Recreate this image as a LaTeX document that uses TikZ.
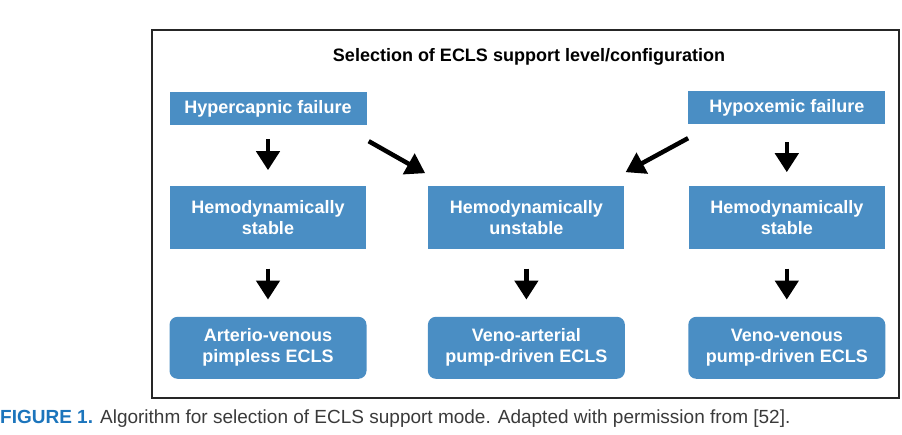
\documentclass[tikz,border=0pt]{standalone}
\usepackage{fontspec}
\setmainfont{Liberation Sans}
\usepackage{xcolor}
\definecolor{boxblue}{HTML}{4A8EC4}
\definecolor{capblue}{HTML}{1C75BC}
\definecolor{capgray}{HTML}{3A3A3A}
\definecolor{framegray}{HTML}{262626}
\usepackage{tikz}
\usetikzlibrary{arrows.meta,positioning}
\tikzset{
    box_text/.style={text=white, font=\bfseries\fontsize{18}{21}\selectfont, align=center, inner sep=0pt},
    flow_arrow/.style={-{Triangle[length=19pt,width=23pt]}, line width=4.5pt, black}
}

\begin{document}
\begin{tikzpicture}[
    x=1pt, y=-1pt,
    fail_node/.style={box_text, fill=boxblue, minimum width=197pt, minimum height=33pt},
    hemo_node/.style={box_text, fill=boxblue, minimum width=196pt, minimum height=63pt},
    mode_node/.style={box_text, fill=boxblue, rounded corners=8pt, minimum width=197pt, minimum height=62pt}
]
  \useasboundingbox (0,0) rectangle (902,435);

  % Outer frame and heading
  \draw[framegray, line width=2pt] (152,30) rectangle (899,398);
  \node[font=\bfseries\fontsize{18}{21}\selectfont] (title) at (529,57) {Selection of ECLS support level/configuration};

  % Failure type
  \node[fail_node] (hyper) at (268,108.5) {Hypercapnic failure};

  % Hemodynamic state
  \node[hemo_node, below=61pt of hyper] (stab_l) {Hemodynamically\\stable};
  \node[hemo_node, right=62pt of stab_l] (unstab) {Hemodynamically\\unstable};
  \node[hemo_node, right=64pt of unstab] (stab_r) {Hemodynamically\\stable};
  \node[fail_node, above=62pt of stab_r] (hypox) {Hypoxemic failure};

  % ECLS configuration
  \node[mode_node, below=67pt of stab_l] (av_ecls) {Arterio-venous\\pimpless ECLS};
  \node[mode_node, below=67pt of unstab] (va_ecls) {Veno-arterial\\pump-driven ECLS};
  \node[mode_node, below=67pt of stab_r] (vv_ecls) {Veno-venous\\pump-driven ECLS};

  % Arrows
  \draw[flow_arrow] ([yshift=-14pt]hyper.south) -- ([yshift=16pt]stab_l.north);
  \draw[flow_arrow] ([yshift=-18pt]hypox.south) -- ([yshift=14pt]stab_r.north);
  \draw[flow_arrow] ([shift={(2pt,-16pt)}]hyper.south east) -- ([shift={(-3pt,13pt)}]unstab.north west);
  \draw[flow_arrow] ([shift={(0pt,-14pt)}]hypox.south west) -- ([shift={(1pt,14pt)}]unstab.north east);

  \draw[flow_arrow] ([yshift=-19pt]stab_l.south) -- ([yshift=17pt]av_ecls.north);
  \draw[flow_arrow] ([yshift=-19pt]unstab.south) -- ([yshift=17pt]va_ecls.north);
  \draw[flow_arrow] ([yshift=-19pt]stab_r.south) -- ([yshift=17pt]vv_ecls.north);

  % Caption
  \node[anchor=west, inner sep=0pt, text=capgray, font=\fontsize{19}{22}\selectfont] (caption) at (0,419)
    {\textcolor{capblue}{\bfseries FIGURE 1.} Algorithm for selection of ECLS support mode. Adapted with permission from [52].};

\end{tikzpicture}
\end{document}
